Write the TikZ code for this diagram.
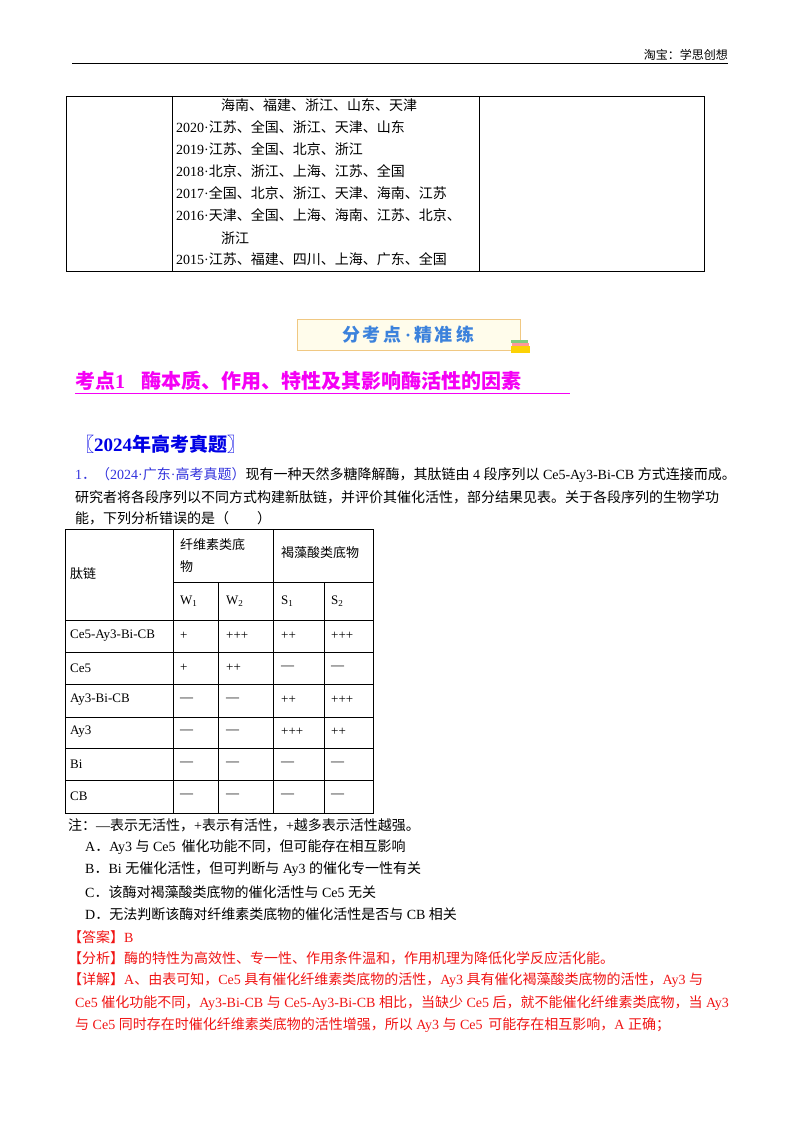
\documentclass[tikz,border=0pt]{standalone}
\usepackage{fontspec}
\setmainfont{Liberation Serif}
\newfontfamily\cjk{Noto Sans CJK SC}
\newcommand\latinfam{\rmfamily}
\newcommand\Lt[1]{{\rmfamily #1}}
\XeTeXinterchartokenstate=1
\newXeTeXintercharclass\cjkclass
\count255="3000
\loop\ifnum\count255<"A000 \XeTeXcharclass\count255=\cjkclass \advance\count255 by 1 \repeat
\count255="FF00
\loop\ifnum\count255<"FFF0 \XeTeXcharclass\count255=\cjkclass \advance\count255 by 1 \repeat
\XeTeXinterchartoks 0 \cjkclass = {\cjk}
\XeTeXinterchartoks 4095 \cjkclass = {\cjk}
\XeTeXinterchartoks \cjkclass 0 = {\latinfam}
\XeTeXinterchartoks \cjkclass 4095 = {\latinfam}
\definecolor{ansred}{RGB}{240,20,20}
\definecolor{qblue}{RGB}{50,50,220}
\definecolor{hmag}{RGB}{245,0,245}
\begin{document}
\begin{tikzpicture}[x=1pt,y=-1pt,
  txt/.style={anchor=west,inner sep=0pt,font=\fontsize{14}{16}\selectfont},
  cell/.style={anchor=west,inner sep=0pt,font=\fontsize{13}{15}\selectfont},
  grid/.style={line width=0.8pt}]
\useasboundingbox (0,0) rectangle (800,1132);
% header
\node[anchor=east,inner sep=0pt,font=\fontsize{12}{14}\selectfont] (hdr) at (728,55) {淘宝：学思创想};
\draw[line width=1pt] (72,64) -- (728,64);
% top table
\draw[grid] (66,96) rectangle (704,271);
\draw[grid] (172,96) -- (172,271);
\draw[grid] (479,96) -- (479,271);
\node[txt] (t1) at (221,105) {海南、福建、浙江、山东、天津};
\node[txt] (t2) at (176,127) {2020·江苏、全国、浙江、天津、山东};
\node[txt] (t3) at (176,149) {2019·江苏、全国、北京、浙江};
\node[txt] (t4) at (176,171) {2018·北京、浙江、上海、江苏、全国};
\node[txt] (t5) at (176,193) {2017·全国、北京、浙江、天津、海南、江苏};
\node[txt] (t6) at (176,215) {2016·天津、全国、上海、海南、江苏、北京、};
\node[txt] (t7) at (221,238) {浙江};
\node[txt] (t8) at (176,259) {2015·江苏、福建、四川、上海、广东、全国};
% banner
\draw[draw={rgb,255:red,240;green,200;blue,130},fill={rgb,255:red,255;green,252;blue,235},line width=1pt] (297,319) rectangle (520,350);
\node[inner sep=0pt,text={rgb,255:red,60;green,130;blue,220},font=\fontsize{18}{20}\selectfont\bfseries] (ban) at (408,335) {分\,考\,点\,·\,精\,准\,练};
\fill[green!60!black!50] (511,340) rectangle (528,343);
\fill[red!40] (512,343) rectangle (529,346);
\fill[yellow!70!orange] (511,346) rectangle (530,353);
% heading
\node[anchor=west,inner sep=0pt,text=hmag,font=\fontsize{20}{22}\selectfont\bfseries] (h1) at (75,381) {考点1\hspace{16pt}酶本质、作用、特性及其影响酶活性的因素};
\draw[hmag,line width=0.8pt] (75,393) -- (570,393);
\node[anchor=west,inner sep=0pt,text=blue!90!black,font=\fontsize{19}{21}\selectfont\bfseries] (h2) at (75,444) {〖2024年高考真题〗};
% question
\node[txt] (q1) at (75,475) {\textcolor{qblue}{1．（2024·广东·高考真题）}现有一种天然多糖降解酶，其肽链由 \Lt{4} 段序列以 \Lt{Ce5-Ay3-Bi-CB} 方式连接而成。};
\node[txt] (q2) at (75,497) {研究者将各段序列以不同方式构建新肽链，并评价其催化活性，部分结果见表。关于各段序列的生物学功};
\node[txt] (q3) at (75,518) {能，下列分析错误的是（\hspace{28pt}）};
% table 2
\draw[grid] (65,529) rectangle (373,813);
\draw[grid] (173,529) -- (173,813);
\draw[grid] (273,529) -- (273,813);
\draw[grid] (218,582) -- (218,813);
\draw[grid] (324,582) -- (324,813);
\draw[grid] (173,582) -- (373,582);
\foreach \yy in {620,652,684,717,748,780} \draw[grid] (65,\yy) -- (373,\yy);
\node[cell] (c0) at (70,574) {肽链};
\node[cell] (c1) at (180,545) {纤维素类底};
\node[cell] (c2) at (180,567) {物};
\node[cell] (c3) at (281,553) {褐藻酸类底物};
\node[cell] (w1) at (180,601) {W\textsubscript{1}};
\node[cell] (w2) at (226,601) {W\textsubscript{2}};
\node[cell] (s1) at (281,601) {S\textsubscript{1}};
\node[cell] (s2) at (331,601) {S\textsubscript{2}};
\foreach \nm/\a/\b/\c/\d [count=\i] in {Ce5-Ay3-Bi-CB/+/+++/++/+++, Ce5/+/++/—/—, Ay3-Bi-CB/—/—/++/+++, Ay3/—/—/+++/++, Bi/—/—/—/—, CB/—/—/—/—}{
  \pgfmathsetmacro\ry{604+32*\i}
  \node[cell] (r\i) at (70,\ry) {\nm};
  \node[cell] (ra\i) at (180,\ry) {\a};
  \node[cell] (rb\i) at (226,\ry) {\b};
  \node[cell] (rc\i) at (281,\ry) {\c};
  \node[cell] (rd\i) at (331,\ry) {\d};
}
% notes & options
\node[txt] (n0) at (68,825) {注：—表示无活性，\Lt{+}表示有活性，\Lt{+}越多表示活性越强。};
\node[txt] (oa) at (85,847) {\Lt{A}．\Lt{Ay3} 与 \Lt{Ce5}\, 催化功能不同，但可能存在相互影响};
\node[txt] (ob) at (85,869) {\Lt{B}．\Lt{Bi} 无催化活性，但可判断与 \Lt{Ay3} 的催化专一性有关};
\node[txt] (oc) at (85,892) {\Lt{C}．该酶对褐藻酸类底物的催化活性与 \Lt{Ce5} 无关};
\node[txt] (od) at (85,914) {\Lt{D}．无法判断该酶对纤维素类底物的催化活性是否与 \Lt{CB} 相关};
\begin{scope}[every node/.append style={text=ansred}]
\node[txt] (an) at (68,937) {【答案】\Lt{B}};
\node[txt] (fx) at (68,958) {【分析】酶的特性为高效性、专一性、作用条件温和，作用机理为降低化学反应活化能。};
\node[txt] (xj1) at (68,980) {【详解】\Lt{A}、由表可知，\Lt{Ce5} 具有催化纤维素类底物的活性，\Lt{Ay3} 具有催化褐藻酸类底物的活性，\Lt{Ay3} 与};
\node[txt] (xj2) at (75,1003) {\Lt{Ce5} 催化功能不同，\Lt{Ay3-Bi-CB} 与 \Lt{Ce5-Ay3-Bi-CB} 相比，当缺少 \Lt{Ce5} 后，就不能催化纤维素类底物，当 \Lt{Ay3}};
\node[txt] (xj3) at (75,1025) {与 \Lt{Ce5} 同时存在时催化纤维素类底物的活性增强，所以 \Lt{Ay3} 与 \Lt{Ce5}\, 可能存在相互影响，\Lt{A} 正确；};
\end{scope}
\end{tikzpicture}
\end{document}
